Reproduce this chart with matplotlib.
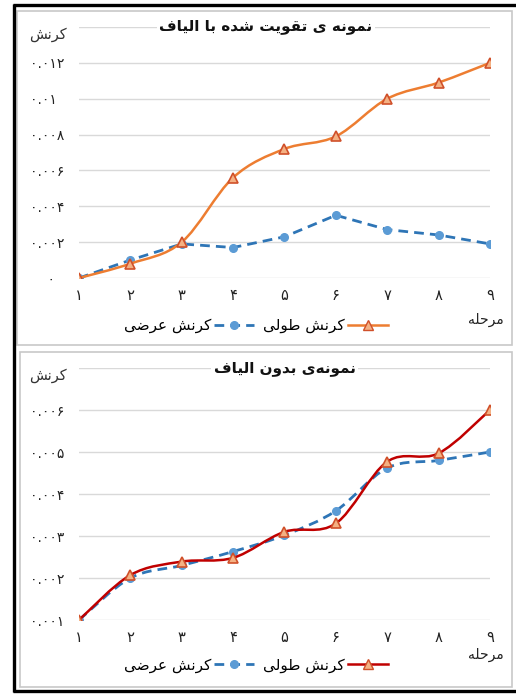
import matplotlib.pyplot as plt
from matplotlib.path import Path
from matplotlib.patches import PathPatch, Rectangle
from matplotlib.lines import Line2D

plt.rcParams['font.family'] = ['DejaVu Sans']

# data
stages = [1, 2, 3, 4, 5, 6, 7, 8, 9]
fiber_long = [0.0, 0.0008, 0.0020, 0.0056, 0.0072, 0.0079, 0.0100, 0.0109, 0.0120]
fiber_trans = [0.0, 0.0010, 0.0019, 0.0017, 0.0023, 0.0035, 0.0027, 0.0024, 0.0019]
plain_long = [0.0010, 0.00207, 0.00239, 0.00248, 0.0031, 0.0033, 0.00477, 0.00497, 0.0060]
plain_trans = [0.0010, 0.0020, 0.0023, 0.00263, 0.00302, 0.0036, 0.00462, 0.0048, 0.0050]

fiber_ticks = [0, 0.002, 0.004, 0.006, 0.008, 0.010, 0.012, 0.014]
plain_ticks = [0.001, 0.002, 0.003, 0.004, 0.005, 0.006, 0.007]

title_fiber = 'نمونه ی تقویت شده با الیاف'
title_plain = 'نمونه\u200cی بدون الیاف'
y_title = 'کرنش'
x_title = 'مرحله'
name_long = 'کرنش طولی'
name_trans = 'کرنش عرضی'

# arabic presentation forms: (isolated, final, initial, medial)
FORMS = {
    'ا': (0xFE8D, 0xFE8E), 'ب': (0xFE8F, 0xFE90, 0xFE91, 0xFE92),
    'ت': (0xFE95, 0xFE96, 0xFE97, 0xFE98), 'ح': (0xFEA1, 0xFEA2, 0xFEA3, 0xFEA4),
    'د': (0xFEA9, 0xFEAA), 'ر': (0xFEAD, 0xFEAE),
    'ش': (0xFEB5, 0xFEB6, 0xFEB7, 0xFEB8), 'ض': (0xFEBD, 0xFEBE, 0xFEBF, 0xFEC0),
    'ط': (0xFEC1, 0xFEC2, 0xFEC3, 0xFEC4), 'ع': (0xFEC9, 0xFECA, 0xFECB, 0xFECC),
    'ف': (0xFED1, 0xFED2, 0xFED3, 0xFED4), 'ق': (0xFED5, 0xFED6, 0xFED7, 0xFED8),
    'ک': (0xFB8E, 0xFB8F, 0xFB90, 0xFB91), 'ل': (0xFEDD, 0xFEDE, 0xFEDF, 0xFEE0),
    'م': (0xFEE1, 0xFEE2, 0xFEE3, 0xFEE4), 'ن': (0xFEE5, 0xFEE6, 0xFEE7, 0xFEE8),
    'ه': (0xFEE9, 0xFEEA, 0xFEEB, 0xFEEC), 'و': (0xFEED, 0xFEEE),
    'ی': (0xFEEF, 0xFEF0, 0xFEF3, 0xFEF4),
}


def rtl(text):
    out = []
    for i, c in enumerate(text):
        if c not in FORMS:
            if c != '\u200c':
                out.append(c)
            continue
        f = FORMS[c]
        prev = text[i - 1] if i > 0 else ''
        nxt = text[i + 1] if i + 1 < len(text) else ''
        joins_prev = prev in FORMS and len(FORMS[prev]) == 4
        joins_next = nxt in FORMS and len(f) == 4
        if joins_prev and joins_next:
            k = 3
        elif joins_prev:
            k = 1
        elif joins_next:
            k = 2
        else:
            k = 0
        out.append(chr(f[k]))
    return ''.join(reversed(out))


def fa_num(s):
    return ''.join(chr(0x06F0 + int(ch)) if ch.isdigit() else ch for ch in str(s))


def tick_text(t):
    if t == 0:
        return '    ' + fa_num(0)
    return fa_num(round(t, 3))


def smooth(x, y):
    verts = [(x[0], y[0])]
    codes = [Path.MOVETO]
    n = len(x)
    for i in range(n - 1):
        a = max(i - 1, 0)
        b = min(i + 2, n - 1)
        verts.append((x[i] + (x[i + 1] - x[a]) / 6, y[i] + (y[i + 1] - y[a]) / 6))
        verts.append((x[i + 1] - (x[b] - x[i]) / 6, y[i + 1] - (y[b] - y[i]) / 6))
        verts.append((x[i + 1], y[i + 1]))
        codes += [Path.CURVE4] * 3
    return Path(verts, codes)


W, H = 516, 695
fig = plt.figure(figsize=(W / 100, H / 100), dpi=100)


def box(x0, y0, x1, y1):
    return [x0 / W, 1 - y1 / H, (x1 - x0) / W, (y1 - y0) / H]


ORANGE = '#ED7D31'
TRI_FACE = '#F4B183'
TRI_EDGE = '#D0502A'
BLUE_LINE = '#2E75B6'
BLUE_DOT = '#5B9BD5'
GRID = '#D9D9D9'


def panel(rect, long_vals, trans_vals, ticks, title, title_x, long_color,
          trans_smooth, xlabel_y, legend_y):
    ax = fig.add_axes(rect)
    ax.set_xlim(stages[0], stages[-1])
    ax.set_ylim(ticks[0], ticks[-1])
    ax.set_yticks(ticks)
    ax.set_yticklabels([tick_text(t) if t != ticks[-1] else '' for t in ticks])
    ax.set_xticks(stages)
    ax.set_xticklabels([fa_num(s) for s in stages])
    ax.grid(axis='y', color=GRID, lw=1)
    ax.set_axisbelow(True)
    for sp in ax.spines.values():
        sp.set_visible(False)
    ax.tick_params(length=0, labelsize=10.5, colors='#222222')
    ax.tick_params(axis='y', pad=35, labelsize=10)
    ax.tick_params(axis='x', pad=7)
    for lbl in ax.get_yticklabels():
        lbl.set_horizontalalignment('left')

    dash = (0, (3.5, 2.2))
    if trans_smooth:
        ax.add_patch(PathPatch(smooth(stages, trans_vals), fill=False,
                               edgecolor=BLUE_LINE, lw=2, linestyle=dash, zorder=3))
    else:
        ax.plot(stages, trans_vals, color=BLUE_LINE, lw=2, linestyle=dash, zorder=3)
    ax.plot(stages, trans_vals, ls='none', marker='o', ms=5.5, mfc=BLUE_DOT,
            mec=BLUE_DOT, zorder=4)
    ax.add_patch(PathPatch(smooth(stages, long_vals), fill=False,
                           edgecolor=long_color, lw=1.8, zorder=5))
    ax.plot(stages, long_vals, ls='none', marker='^', ms=6.5, mfc=TRI_FACE,
            mec=TRI_EDGE, mew=1.2, zorder=6)

    ax.text(title_x, 1.0, rtl(title), transform=ax.transAxes, ha='center',
            va='center', fontsize=11, fontweight='bold', color='#111111',
            bbox=dict(facecolor='white', edgecolor='none', pad=1.5), zorder=7)
    ax.text(-0.075, 0.97, rtl(y_title), transform=ax.transAxes, ha='center',
            va='center', fontsize=10.5, color='#333333')
    ax.text(0.99, xlabel_y, rtl(x_title), transform=ax.transAxes, ha='center',
            va='center', fontsize=10, color='#222222')

    h_trans = Line2D([], [], color=BLUE_LINE, lw=2, linestyle=dash,
                     marker='o', ms=5.5, mfc=BLUE_DOT, mec=BLUE_DOT)
    h_long = Line2D([], [], color=long_color, lw=1.8, marker='^', ms=6.5,
                    mfc=TRI_FACE, mec=TRI_EDGE)
    ax.legend([h_trans, h_long], [rtl(name_trans), rtl(name_long)], ncol=2,
              markerfirst=False, frameon=False, loc='center',
              bbox_to_anchor=(0.43, legend_y), fontsize=11, handlelength=2.6,
              columnspacing=0.6, handletextpad=0.2)
    return ax


panel(box(79, 27, 490, 278), fiber_long, fiber_trans, fiber_ticks,
      title_fiber, 0.455, ORANGE, False, -0.165, -0.19)
panel(box(79, 368, 490, 620), plain_long, plain_trans, plain_ticks,
      title_plain, 0.50, '#C00000', True, -0.14, -0.18)

# panel borders
for x0, y0, x1, y1 in [(17, 11, 512, 345), (20, 352, 512, 687)]:
    fig.add_artist(Rectangle((x0 / W, 1 - y1 / H), (x1 - x0) / W, (y1 - y0) / H,
                             transform=fig.transFigure, fill=False,
                             edgecolor='#C8C8C8', lw=1.2))

# outer black frame (left, top, bottom)
frame = dict(color='black', lw=2.4, transform=fig.transFigure,
             solid_capstyle='butt')
fig.add_artist(Line2D([14 / W, 14 / W], [1 - 4 / H, 1 - 692 / H], **frame))
fig.add_artist(Line2D([13 / W, 1], [1 - 5 / H, 1 - 5 / H], **frame))
fig.add_artist(Line2D([13 / W, 1], [1 - 691 / H, 1 - 691 / H], **frame))

fig.savefig('out.png', dpi=100)
